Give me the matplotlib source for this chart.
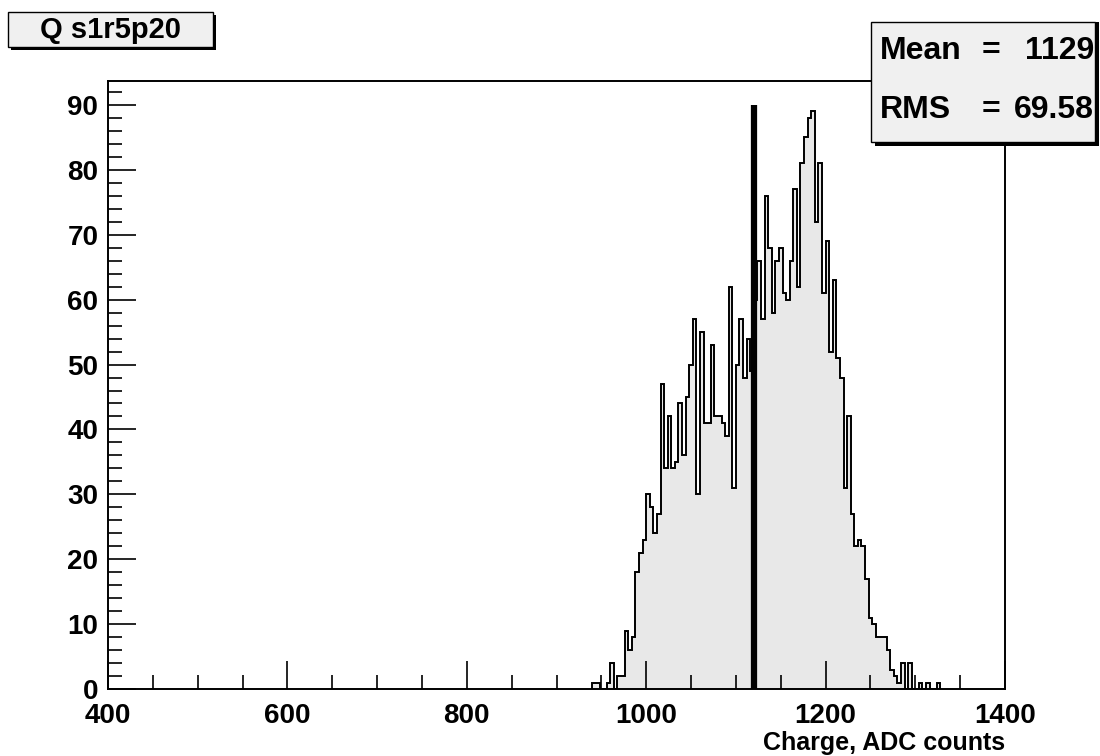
import numpy as np
import matplotlib
matplotlib.use('Agg')
import matplotlib.pyplot as plt
import matplotlib.ticker as tkr
from matplotlib.patches import Rectangle

# histogram: first bin low edge, bin width, counts
bin_start = 940
bin_width = 4
counts = [1, 1, 0, 0, 1, 4, 0, 2, 2, 9,
          6, 8, 18, 21, 23, 30, 28, 24, 27, 47,
          34, 42, 34, 35, 44, 36, 45, 50, 57, 30,
          55, 41, 41, 53, 42, 42, 41, 39, 62, 31,
          50, 57, 48, 54, 49, 60, 66, 57, 76, 68,
          58, 66, 68, 61, 60, 66, 77, 62, 81, 85,
          88, 89, 72, 81, 61, 69, 52, 63, 51, 48,
          31, 42, 27, 22, 23, 22, 17, 11, 10, 8,
          8, 8, 6, 3, 2, 1, 4, 0, 4, 0,
          0, 1, 0, 1, 0, 0, 1]
marker_x = 1120
marker_top = 90

title = 'Q s1r5p20'
stat_names = ['Mean', 'RMS']
stat_values = ['1129', '69.58']
xlabel = 'Charge, ADC counts'


def main():
    plt.rcParams['font.family'] = ['Liberation Sans', 'DejaVu Sans']
    plt.rcParams['font.weight'] = 'bold'
    fig = plt.figure(figsize=(11, 7.56), dpi=100)
    ax = fig.add_axes([108 / 1100, 1 - 689 / 756, 897 / 1100, 608 / 756])

    edges = bin_start + bin_width * np.arange(len(counts) + 1)
    ax.stairs(counts, edges, fill=True, color='#e8e8e8', zorder=1)
    ax.stairs(counts, edges, color='black', lw=1.4, baseline=0, zorder=2)
    ax.plot([marker_x, marker_x], [0, marker_top], color='black', lw=4.5,
            solid_capstyle='butt', zorder=3)

    ax.set_xlim(400, 1400)
    ax.set_ylim(0, 93.7)
    ax.xaxis.set_major_locator(tkr.MultipleLocator(200))
    ax.xaxis.set_minor_locator(tkr.MultipleLocator(50))
    ax.yaxis.set_major_locator(tkr.MultipleLocator(10))
    ax.yaxis.set_minor_locator(tkr.MultipleLocator(2))
    ax.tick_params(which='both', direction='in', top=False, right=False,
                   width=1.2, labelsize=20)
    ax.tick_params(which='major', length=20)
    ax.tick_params(which='minor', length=10)
    ax.tick_params(axis='x', pad=10)
    ax.tick_params(axis='y', pad=7)
    for lab in ax.get_xticklabels() + ax.get_yticklabels():
        lab.set_fontweight('bold')
    for s in ax.spines.values():
        s.set_linewidth(1.4)

    fig.text(1005 / 1100, 1 - 743 / 756, xlabel, ha='right', va='center',
             fontsize=18, fontweight='bold')

    # title box with shadow
    fig.patches.append(Rectangle((11 / 1100, 1 - 50 / 756), 205 / 1100, 35 / 756,
                                 transform=fig.transFigure, facecolor='black',
                                 edgecolor='none', zorder=1))
    fig.patches.append(Rectangle((8 / 1100, 1 - 47 / 756), 205 / 1100, 35 / 756,
                                 transform=fig.transFigure, facecolor='#f0f0f0',
                                 edgecolor='black', lw=1, zorder=2))
    fig.text(111 / 1100, 1 - 30 / 756, title, ha='center', va='center',
             fontsize=21, fontweight='bold', zorder=3)

    # stats box with shadow
    fig.patches.append(Rectangle((875 / 1100, 1 - 146 / 756), 224 / 1100, 124 / 756,
                                 transform=fig.transFigure, facecolor='black',
                                 edgecolor='none', zorder=4))
    fig.patches.append(Rectangle((871 / 1100, 1 - 142 / 756), 224 / 1100, 120 / 756,
                                 transform=fig.transFigure, facecolor='#f0f0f0',
                                 edgecolor='black', lw=1, zorder=5))
    for i, (name, val) in enumerate(zip(stat_names, stat_values)):
        y = 1 - (51 + 59 * i) / 756
        fig.text(880 / 1100, y, name, ha='left', va='center',
                 fontsize=23, fontweight='bold', zorder=6)
        fig.text(991 / 1100, y, '=', ha='center', va='center',
                 fontsize=23, fontweight='bold', zorder=6)
        fig.text(1094 / 1100, y, val, ha='right', va='center',
                 fontsize=23, fontweight='bold', zorder=6)

    fig.savefig('out.png', dpi=100)


if __name__ == '__main__':
    main()
